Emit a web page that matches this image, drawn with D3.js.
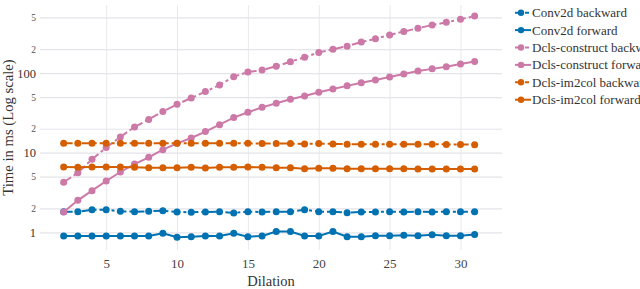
<!DOCTYPE html>
<html>
<head>
<meta charset="utf-8">
<script src="https://cdn.jsdelivr.net/npm/d3@7"></script>
<style>
  body { margin: 0; background: #fff; }
  svg { display: block; font-family: "Liberation Serif", "Times New Roman", serif; }
</style>
</head>
<body>
<svg id="chart" width="640" height="289"></svg>
<script>
// dilation values on the x axis
const dilation = [2, 3, 4, 5, 6, 7, 8, 9, 10, 11, 12, 13, 14, 15, 16, 17, 18, 19, 20, 21,
    22, 23, 24, 25, 26, 27, 28, 29, 30, 31];

// times in ms
const conv2dBackward = [1.815, 1.815, 1.92, 1.92, 1.835, 1.815, 1.835, 1.87, 1.80, 1.785,
    1.80, 1.815, 1.75, 1.815, 1.80, 1.815, 1.815, 1.92, 1.815, 1.815,
    1.765, 1.80, 1.80, 1.815, 1.80, 1.815, 1.80, 1.815, 1.815, 1.815];
const conv2dForward = [0.90, 0.90, 0.90, 0.90, 0.90, 0.90, 0.90, 0.97, 0.865, 0.88,
    0.90, 0.90, 0.97, 0.88, 0.90, 1.02, 1.02, 0.90, 0.90, 1.02,
    0.88, 0.88, 0.905, 0.905, 0.917, 0.905, 0.93, 0.905, 0.905, 0.94];
const constructBackward = [4.25, 5.6, 8.26, 11.6, 15.8, 21.0, 26.2, 33.0, 40.5, 48.7,
    58.6, 71.0, 90.2, 103, 109, 122, 139, 158, 182, 199,
    218, 245, 270, 301, 333, 366, 402, 434, 474, 520];
const constructForward = [1.80, 2.52, 3.33, 4.41, 5.72, 7.2, 8.74, 10.9, 13.1, 15.3,
    18.4, 22.5, 27.6, 32.2, 37.1, 41.7, 46.8, 51.5, 57.5, 63.2,
    69.1, 75.5, 81.7, 89.3, 97.3, 106, 113, 120, 130, 140];
const im2colBackward = [13.1, 13.1, 13.1, 13.1, 13.1, 13.1, 13.1, 13.1, 13.1, 13.1,
    13.1, 13.1, 13.1, 13.1, 13.0, 13.0, 13.0, 12.9, 13.0, 12.9,
    12.8, 12.8, 12.8, 12.8, 12.8, 12.8, 12.8, 12.7, 12.7, 12.6];
const im2colForward = [6.61, 6.54, 6.61, 6.61, 6.61, 6.54, 6.47, 6.47, 6.47, 6.54,
    6.42, 6.54, 6.54, 6.61, 6.54, 6.47, 6.47, 6.30, 6.36, 6.36,
    6.30, 6.30, 6.30, 6.30, 6.30, 6.24, 6.24, 6.24, 6.24, 6.24];

const seriesNames = ["Conv2d backward", "Conv2d forward", "Dcls-construct backward",
    "Dcls-construct forward", "Dcls-im2col backward", "Dcls-im2col forward"];
const seriesValues = [conv2dBackward, conv2dForward, constructBackward,
    constructForward, im2colBackward, im2colForward];

const xTicks = [5, 10, 15, 20, 25, 30];
const yTicks = [1, 2, 5, 10, 20, 50, 100, 200, 500];
const yMajor = [1, 10, 100];

const colors = ["#0072B2", "#0072B2", "#CC79A7", "#CC79A7", "#D55E00", "#D55E00"];
const dashes = ["9,3,3,3", null, "9,3,3,3", null, "9,3,3,3", null];

const margin = {left: 40, right: 138, top: 5, bottom: 39};
const width = 640, height = 289;

const svg = d3.select("#chart");

const x = d3.scaleLinear()
    .domain([0.33, 32.93])
    .range([margin.left, width - margin.right]);

const y = d3.scaleLog()
    .domain([0.599, 717])
    .range([height - margin.bottom, margin.top]);

// grid
svg.append("g")
    .attr("transform", `translate(0, ${height - margin.bottom})`)
    .call(d3.axisBottom(x).tickValues(xTicks).tickSize(-(height - margin.top - margin.bottom)).tickFormat(""))
    .call(g => g.select(".domain").remove())
    .call(g => g.selectAll("line").attr("stroke", "#e8e8ee"));

svg.append("g")
    .attr("transform", `translate(${margin.left}, 0)`)
    .call(d3.axisLeft(y).tickValues(yTicks).tickSize(-(width - margin.left - margin.right)).tickFormat(""))
    .call(g => g.select(".domain").remove())
    .call(g => g.selectAll("line").attr("stroke", "#e4e4ea").attr("stroke-width", 1.2));

// tick labels
svg.append("g")
    .attr("transform", `translate(0, ${height - margin.bottom})`)
    .call(d3.axisBottom(x).tickValues(xTicks).tickSize(0).tickPadding(9))
    .call(g => g.select(".domain").remove())
    .selectAll("text")
    .attr("font-family", "Liberation Serif")
    .attr("font-size", 13)
    .attr("fill", "#444");

svg.append("g")
    .attr("transform", `translate(${margin.left - 4}, 0)`)
    .call(d3.axisLeft(y).tickValues(yTicks).tickSize(0).tickPadding(0)
        .tickFormat(d => yMajor.includes(d) ? d : String(d).charAt(0)))
    .call(g => g.select(".domain").remove())
    .selectAll("text")
    .attr("font-family", "Liberation Serif")
    .attr("font-size", d => yMajor.includes(d) ? 12.5 : 9.5)
    .attr("fill", d => yMajor.includes(d) ? "#333" : "#555");

// axis titles
svg.append("text")
    .text("Dilation")
    .attr("x", (margin.left + width - margin.right) / 2)
    .attr("y", 286)
    .attr("text-anchor", "middle")
    .attr("font-size", 14.5)
    .attr("fill", "#333");

svg.append("text")
    .text("Time in ms (Log scale)")
    .attr("transform", `translate(13, ${(margin.top + height - margin.bottom) / 2}) rotate(-90)`)
    .attr("text-anchor", "middle")
    .attr("font-size", 14.7)
    .attr("fill", "#333");

// series
const line = d3.line()
    .x((d, i) => x(dilation[i]))
    .y(d => y(d));

seriesValues.forEach((vals, k) => {
    const g = svg.append("g");
    g.append("path")
        .attr("d", line(vals))
        .attr("fill", "none")
        .attr("stroke", colors[k])
        .attr("stroke-width", 2)
        .attr("stroke-dasharray", dashes[k]);
    g.selectAll("circle")
        .data(vals)
        .join("circle")
        .attr("cx", (d, i) => x(dilation[i]))
        .attr("cy", d => y(d))
        .attr("r", 3.5)
        .attr("fill", colors[k]);
});

// legend
const legend = svg.append("g").attr("transform", "translate(514, 12.7)");
seriesNames.forEach((name, k) => {
    const row = legend.append("g").attr("transform", `translate(0, ${k * 17.4})`);
    row.append("line")
        .attr("x1", 1).attr("x2", 17)
        .attr("stroke", colors[k])
        .attr("stroke-width", 2)
        .attr("stroke-dasharray", dashes[k] ? "4,2,2,2" : null);
    row.append("circle")
        .attr("cx", 7).attr("r", 3.2)
        .attr("fill", colors[k]);
    row.append("text")
        .text(name)
        .attr("x", 18)
        .attr("y", 4.5)
        .attr("font-size", 13)
        .attr("fill", "#333");
});
</script>
</body>
</html>
